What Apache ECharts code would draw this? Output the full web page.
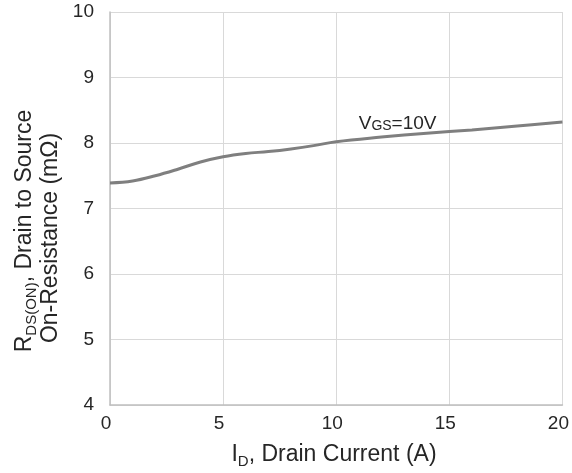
<!DOCTYPE html>
<html><head><meta charset="utf-8">
<script src="https://cdn.jsdelivr.net/npm/echarts@6/dist/echarts.min.js"></script>
<style>html,body{margin:0;padding:0;background:#fff}#c{width:572px;height:473px}</style>
</head><body><div id="c"></div>
<script>
const currentA = [0, 1, 2, 3, 4, 5, 6, 7, 8, 9, 10, 12, 14, 16, 18, 20];
const rdsOn = [7.39, 7.42, 7.50, 7.60, 7.71, 7.79, 7.84, 7.87, 7.91, 7.96, 8.02, 8.09, 8.15, 8.20, 8.26, 8.32];
const xTicks = [0, 5, 10, 15, 20];
const yTicks = [4, 5, 6, 7, 8, 9, 10];
const FONT = '"Liberation Sans", Arial, sans-serif';

const chart = echarts.init(document.getElementById('c'), null, {renderer: 'canvas'});
chart.setOption({
  animation: false,
  grid: {left: 110, right: 6, top: 12, bottom: 68},
  xAxis: {
    type: 'value', min: xTicks[0], max: xTicks[xTicks.length - 1], interval: 5,
    axisLine: {show: true, lineStyle: {color: '#bfbfbf', width: 1.5}},
    axisTick: {show: false},
    splitLine: {show: true, lineStyle: {color: '#d9d9d9', width: 1}},
    axisLabel: {color: '#262626', fontSize: 19, fontFamily: FONT, margin: 9, padding: [0, 8, 0, 0]}
  },
  yAxis: {
    type: 'value', min: yTicks[0], max: yTicks[yTicks.length - 1], interval: 1,
    axisLine: {show: true, lineStyle: {color: '#bfbfbf', width: 1.5}},
    axisTick: {show: false},
    splitLine: {show: true, lineStyle: {color: '#d9d9d9', width: 1}},
    axisLabel: {color: '#262626', fontSize: 19, fontFamily: FONT, margin: 16}
  },
  series: [{
    type: 'line',
    data: currentA.map((x, i) => [x, rdsOn[i]]),
    smooth: 0.4,
    symbol: 'none',
    lineStyle: {color: '#7f7f7f', width: 3}
  }]
});

const ann = chart.convertToPixel({gridIndex: 0}, [14.0, 8.3]);
const richTitle = {
  n: {fontSize: 23, fontFamily: FONT, fill: '#262626', lineHeight: 28, verticalAlign: 'middle'},
  s: {fontSize: 15, fontFamily: FONT, fill: '#262626', lineHeight: 18, verticalAlign: 'bottom'}
};
const richTitleY = {
  n: {fontSize: 23, fontFamily: FONT, fill: '#262626', lineHeight: 28, verticalAlign: 'middle'},
  s: {fontSize: 15, fontFamily: FONT, fill: '#262626', lineHeight: 23, verticalAlign: 'bottom'}
};
chart.setOption({
  graphic: [
    {
      type: 'text', x: 334, y: 455,
      style: {
        text: '{n|I}{s|D}{n|, Drain Current (A)}',
        align: 'center', verticalAlign: 'middle',
        rich: richTitle
      }
    },
    {
      type: 'text', x: 25, y: 231, rotation: Math.PI / 2,
      style: {
        text: '{n|R}{s|DS(ON)}{n|, Drain to Source}',
        align: 'center', verticalAlign: 'middle',
        rich: richTitleY
      }
    },
    {
      type: 'text', x: 51, y: 238, rotation: Math.PI / 2,
      style: {
        text: 'On-Resistance (mΩ)',
        align: 'center', verticalAlign: 'middle',
        fontSize: 23, fontFamily: FONT, fill: '#262626'
      }
    },
    {
      type: 'text', x: ann[0] - 68, y: ann[1] - 1,
      style: {
        text: '{v|V}{g|GS}{v|=10V}',
        align: 'left', verticalAlign: 'middle',
        rich: {
          v: {fontSize: 19, fontFamily: FONT, fill: '#262626', lineHeight: 22, verticalAlign: 'bottom'},
          g: {fontSize: 14, fontFamily: FONT, fill: '#262626', lineHeight: 22, verticalAlign: 'bottom'}
        }
      }
    }
  ]
});
</script></body></html>
